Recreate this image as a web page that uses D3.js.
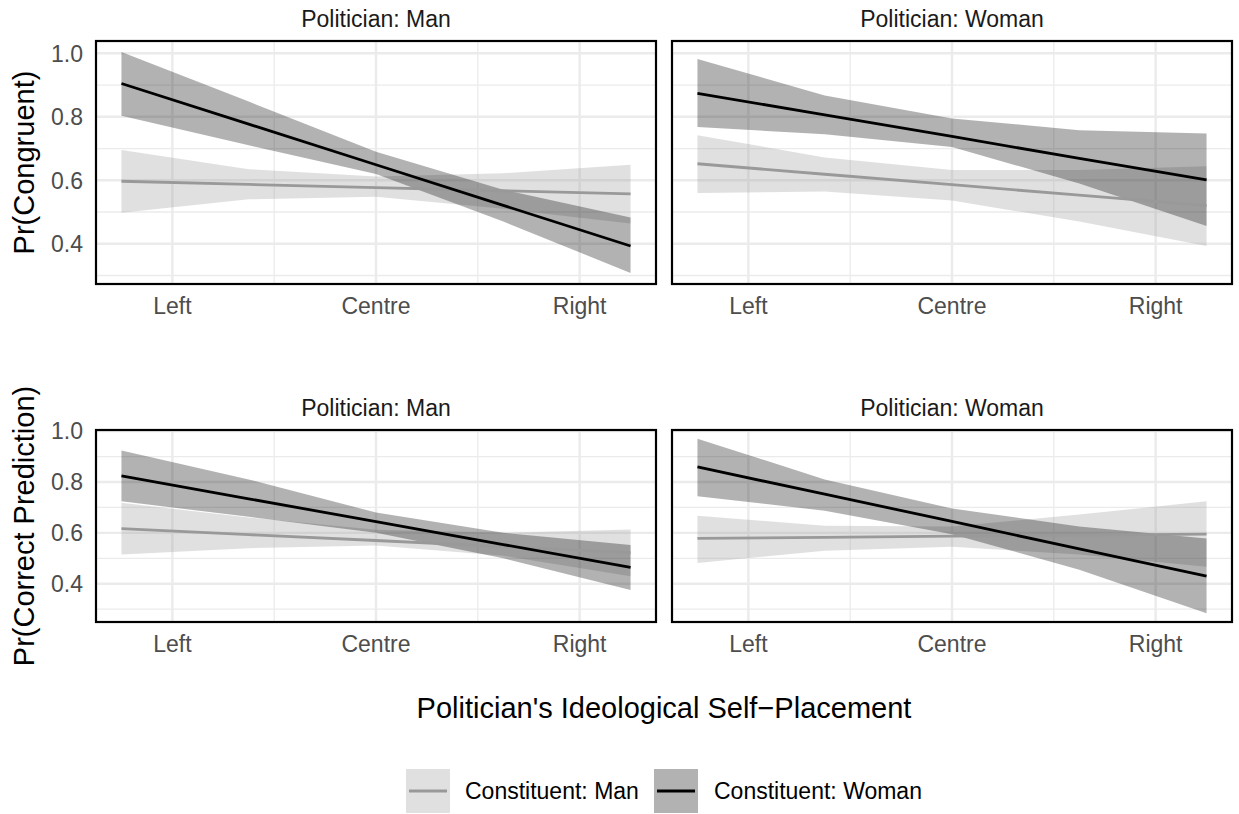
<!DOCTYPE html>
<html>
<head>
<meta charset="UTF-8">
<script src="https://d3js.org/d3.v7.min.js"></script>
<style>
  body { margin: 0; background: #fff; }
  svg { display: block; font-family: "Liberation Sans", Arial, sans-serif; }
</style>
</head>
<body>
<svg id="chart" width="1239" height="814"></svg>
<script>
var xs = [1.25, 3.125, 5, 6.875, 8.75];
var xTicks = [2, 5, 8];
var xTickLabels = ["Left", "Centre", "Right"];
var xMinor = [3.5, 6.5];
var yTicks = [0.4, 0.6, 0.8, 1.0];
var yMinor = [0.3, 0.5, 0.7, 0.9];

var rowTitles = ["Pr(Congruent)", "Pr(Correct Prediction)"];
var colTitles = ["Politician: Man", "Politician: Woman"];
var groups = ["Constituent: Man", "Constituent: Woman"];

// Pr(Congruent)
var congPolMan_conMan   = {fit: [0.597, 0.587, 0.577, 0.567, 0.557], lo: [0.498, 0.540, 0.548, 0.510, 0.464], hi: [0.695, 0.635, 0.612, 0.622, 0.649]};
var congPolMan_conWoman = {fit: [0.905, 0.777, 0.649, 0.521, 0.393], lo: [0.803, 0.710, 0.620, 0.470, 0.308], hi: [1.004, 0.848, 0.690, 0.570, 0.483]};
var congPolWoman_conMan   = {fit: [0.652, 0.619, 0.586, 0.553, 0.520], lo: [0.560, 0.565, 0.536, 0.470, 0.393], hi: [0.742, 0.672, 0.632, 0.632, 0.644]};
var congPolWoman_conWoman = {fit: [0.874, 0.806, 0.738, 0.669, 0.601], lo: [0.768, 0.745, 0.705, 0.590, 0.456], hi: [0.982, 0.867, 0.795, 0.758, 0.747]};

// Pr(Correct Prediction)
var predPolMan_conMan   = {fit: [0.617, 0.593, 0.570, 0.546, 0.522], lo: [0.515, 0.540, 0.550, 0.510, 0.430], hi: [0.718, 0.660, 0.612, 0.600, 0.613]};
var predPolMan_conWoman = {fit: [0.824, 0.734, 0.644, 0.554, 0.464], lo: [0.724, 0.663, 0.600, 0.500, 0.375], hi: [0.924, 0.810, 0.680, 0.600, 0.552]};
var predPolWoman_conMan   = {fit: [0.578, 0.582, 0.587, 0.591, 0.595], lo: [0.482, 0.530, 0.545, 0.515, 0.467], hi: [0.667, 0.628, 0.625, 0.672, 0.724]};
var predPolWoman_conWoman = {fit: [0.859, 0.752, 0.645, 0.537, 0.430], lo: [0.744, 0.687, 0.595, 0.455, 0.284], hi: [0.970, 0.810, 0.696, 0.625, 0.578]};

var panels = [
  {row: 0, col: 0, series: [congPolMan_conMan, congPolMan_conWoman]},
  {row: 0, col: 1, series: [congPolWoman_conMan, congPolWoman_conWoman]},
  {row: 1, col: 0, series: [predPolMan_conMan, predPolMan_conWoman]},
  {row: 1, col: 1, series: [predPolWoman_conMan, predPolWoman_conWoman]}
];

var lineColor = ["#999999", "#000000"];
var fillColor = ["#999999", "#000000"];
var fillAlpha = 0.3;

// layout
var colX = [96, 672], panelW = 560;
var rowY = [41, 430], rowH = [243, 192];

var svg = d3.select("#chart");

// expanded domains (5% like ggplot)
function expand(lo, hi) { var d = (hi - lo) * 0.05; return [lo - d, hi + d]; }
var xDom = expand(d3.min(xs), d3.max(xs));

var yDoms = [0, 1].map(function(r) {
  var ps = panels.filter(function(p) { return p.row == r; });
  var all = [];
  ps.forEach(function(p) { p.series.forEach(function(s) { all = all.concat(s.lo, s.hi); }); });
  return expand(d3.min(all), d3.max(all));
});

panels.forEach(function(p) {
  var x = d3.scaleLinear().domain(xDom).range([colX[p.col], colX[p.col] + panelW]);
  var y = d3.scaleLinear().domain(yDoms[p.row]).range([rowY[p.row] + rowH[p.row], rowY[p.row]]);
  var g = svg.append("g");
  var x0 = colX[p.col], x1 = colX[p.col] + panelW;
  var y0 = rowY[p.row], y1 = rowY[p.row] + rowH[p.row];

  // grid
  g.selectAll(".ymin").data(yMinor).enter().append("line")
    .attr("x1", x0).attr("x2", x1).attr("y1", d => y(d)).attr("y2", d => y(d))
    .attr("stroke", "#ebebeb").attr("stroke-width", 1.3);
  g.selectAll(".xmin").data(xMinor).enter().append("line")
    .attr("y1", y0).attr("y2", y1).attr("x1", d => x(d)).attr("x2", d => x(d))
    .attr("stroke", "#ebebeb").attr("stroke-width", 1.3);
  g.selectAll(".ymaj").data(yTicks).enter().append("line")
    .attr("x1", x0).attr("x2", x1).attr("y1", d => y(d)).attr("y2", d => y(d))
    .attr("stroke", "#ebebeb").attr("stroke-width", 2.4);
  g.selectAll(".xmaj").data(xTicks).enter().append("line")
    .attr("y1", y0).attr("y2", y1).attr("x1", d => x(d)).attr("x2", d => x(d))
    .attr("stroke", "#ebebeb").attr("stroke-width", 2.4);

  // ribbons
  p.series.forEach(function(s, i) {
    var pts = xs.map(function(v, k) { return {x: v, lo: s.lo[k], hi: s.hi[k]}; });
    g.append("path")
      .attr("d", d3.area().x(d => x(d.x)).y0(d => y(d.lo)).y1(d => y(d.hi))(pts))
      .attr("fill", fillColor[i]).attr("fill-opacity", fillAlpha);
  });
  // lines
  p.series.forEach(function(s, i) {
    var pts = xs.map(function(v, k) { return {x: v, y: s.fit[k]}; });
    g.append("path")
      .attr("d", d3.line().x(d => x(d.x)).y(d => y(d.y))(pts))
      .attr("fill", "none").attr("stroke", lineColor[i]).attr("stroke-width", 2.8);
  });

  // border
  g.append("rect").attr("x", x0).attr("y", y0).attr("width", panelW).attr("height", rowH[p.row])
    .attr("fill", "none").attr("stroke", "#000").attr("stroke-width", 2.2);

  // strip
  g.append("text").attr("x", (x0 + x1) / 2).attr("y", y0 - 14)
    .attr("text-anchor", "middle").attr("font-size", 23).attr("fill", "#1a1a1a")
    .text(colTitles[p.col]);

  // x tick labels
  g.selectAll(".xl").data(xTicks).enter().append("text")
    .attr("x", d => x(d)).attr("y", y1 + 30)
    .attr("text-anchor", "middle").attr("font-size", 23).attr("fill", "#4d4d4d")
    .text((d, i) => xTickLabels[i]);

  // y tick labels on left column only
  if (p.col == 0) {
    g.selectAll(".yl").data(yTicks).enter().append("text")
      .attr("x", x0 - 13).attr("y", d => y(d)).attr("dy", "0.36em")
      .attr("text-anchor", "end").attr("font-size", 23).attr("fill", "#4d4d4d")
      .text(d => d3.format(".1f")(d));
    svg.append("text")
      .attr("transform", "translate(34," + ((y0 + y1) / 2) + ") rotate(-90)")
      .attr("text-anchor", "middle").attr("font-size", 29).attr("fill", "#000")
      .text(rowTitles[p.row]);
  }
});

// x axis title
svg.append("text").attr("x", (colX[0] + colX[1] + panelW) / 2).attr("y", 718)
  .attr("text-anchor", "middle").attr("font-size", 29).attr("fill", "#000")
  .text("Politician's Ideological Self\u2212Placement");

// legend
var keyX = [406, 654], textX = [465, 714], keyY = 769, keyS = 44;
groups.forEach(function(name, i) {
  svg.append("rect").attr("x", keyX[i]).attr("y", keyY).attr("width", keyS).attr("height", keyS)
    .attr("fill", fillColor[i]).attr("fill-opacity", fillAlpha);
  svg.append("line").attr("x1", keyX[i] + 3).attr("x2", keyX[i] + keyS - 3)
    .attr("y1", keyY + keyS / 2).attr("y2", keyY + keyS / 2)
    .attr("stroke", lineColor[i]).attr("stroke-width", 2.8);
  svg.append("text").attr("x", textX[i]).attr("y", keyY + keyS / 2).attr("dy", "0.36em")
    .attr("font-size", 23).attr("fill", "#000").text(name);
});
</script>
</body>
</html>
